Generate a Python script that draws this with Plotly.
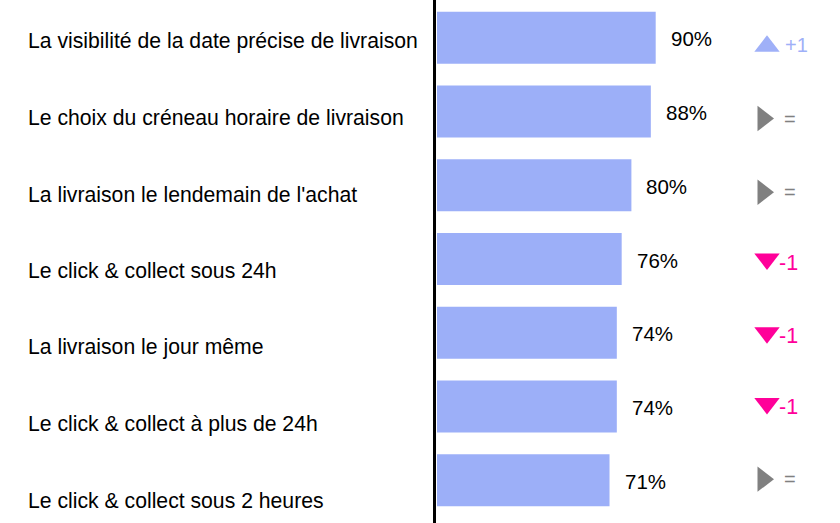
import plotly.graph_objects as go

# ---- data ----
categories = [
    "La visibilité de la date précise de livraison",
    "Le choix du créneau horaire de livraison",
    "La livraison le lendemain de l'achat",
    "Le click & collect sous 24h",
    "La livraison le jour même",
    "Le click & collect à plus de 24h",
    "Le click & collect sous 2 heures",
]
values = [90, 88, 80, 76, 74, 74, 71]
value_labels = ["90%", "88%", "80%", "76%", "74%", "74%", "71%"]
changes = [1, 0, 0, -1, -1, -1, 0]
change_labels = ["+1", "=", "=", "-1", "-1", "-1", "="]

# ---- layout constants ----
W, H = 840, 523
PLOT_LEFT = 437
PX_PER_UNIT = 2.43
PITCH = 73.7
BAR_COLOR = "#9caff8"
FONT = "Liberation Sans, Arial, sans-serif"

idx = list(range(len(categories)))

style_by_change = {
    1: dict(symbol="triangle-up", color="#9fb0f8", size=20, mdy=1.5, xcol=767, msize=22),
    0: dict(symbol="triangle-right", color="#808080", size=20, mdy=0, xcol=763, msize=22),
    -1: dict(symbol="triangle-down", color="#ff0099", size=21.5, mdy=-3.5, xcol=767, msize=22),
}
text_x = {1: 783, 0: 782, -1: 777}
ind_dy = [7, 7, 7, 3.5, 3.5, 0.5, -1]          # px downward, per row
label_dy = [3.3 + 2.83 * i for i in idx]         # px downward, per row

fig = go.Figure()
fig.add_trace(go.Bar(
    x=values, y=idx, orientation="h",
    marker=dict(color=BAR_COLOR, line=dict(width=0)),
    width=0.705, hoverinfo="skip",
))

# change markers
mx, my, msym, mcol, msz = [], [], [], [], []
for i, c in zip(idx, changes):
    st = style_by_change[c]
    mx.append(st["xcol"] / W)
    my.append(i + (ind_dy[i] + st["mdy"]) / PITCH)
    msym.append(st["symbol"])
    mcol.append(st["color"])
    msz.append(st["msize"])
fig.add_trace(go.Scatter(
    x=mx, y=my, xaxis="x2", mode="markers",
    marker=dict(symbol=msym, color=mcol, size=msz, opacity=1, line=dict(width=0)),
    hoverinfo="skip", cliponaxis=False,
))

annotations = []
for i, cat, v, vl, c, cl in zip(idx, categories, values, value_labels, changes, change_labels):
    annotations.append(dict(
        x=26 / W, xref="paper", y=i, yref="y", text=cat, showarrow=False,
        xanchor="left", yanchor="middle", yshift=-label_dy[i],
        font=dict(family=FONT, size=21.2, color="#000000"),
    ))
    annotations.append(dict(
        x=v, xref="x", y=i, yref="y", text=vl, showarrow=False,
        xanchor="left", yanchor="middle", xshift=13, yshift=-1,
        font=dict(family=FONT, size=20.5, color="#000000"),
    ))
    st = style_by_change[c]
    annotations.append(dict(
        x=text_x[c] / W, xref="paper", y=i, yref="y", text=cl, showarrow=False,
        xanchor="left", yanchor="middle", yshift=-ind_dy[i],
        font=dict(family=FONT, size=st["size"], color=st["color"]),
    ))

fig.update_layout(
    width=W, height=H,
    margin=dict(l=0, r=0, t=1, b=6),
    paper_bgcolor="white", plot_bgcolor="rgba(0,0,0,0)",
    showlegend=False,
    xaxis=dict(domain=[PLOT_LEFT / W, 1], range=[0, (W - PLOT_LEFT) / PX_PER_UNIT],
               visible=False, fixedrange=True),
    xaxis2=dict(domain=[0, 1], range=[0, 1], anchor="y", visible=False, fixedrange=True),
    yaxis=dict(range=[len(categories) - 0.5, -0.5], visible=False, fixedrange=True),
    annotations=annotations,
    shapes=[dict(type="line", xref="paper", yref="paper",
                 x0=434.5 / W, x1=434.5 / W, y0=-0.02, y1=1.01,
                 line=dict(color="#000000", width=3))],
)

fig.write_html("out.html", config={"displayModeBar": False},
               post_script="document.body.style.margin='0';document.body.style.overflow='hidden';")
